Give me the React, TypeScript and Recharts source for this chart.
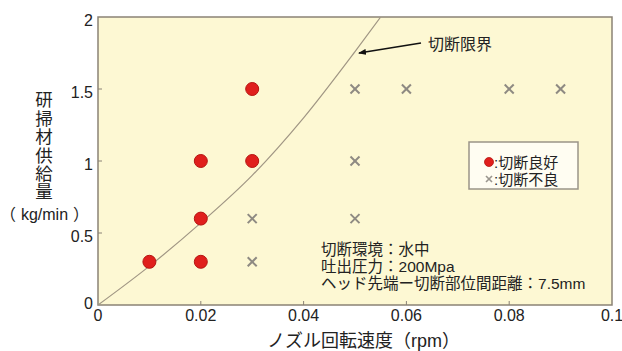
import React from 'react';
import { ComposedChart, Scatter, Line, XAxis, YAxis, CartesianGrid, ReferenceArea } from 'recharts';

const goodX = [0.01, 0.02, 0.02, 0.02, 0.03, 0.03];
const goodY = [0.3, 0.3, 0.6, 1.0, 1.0, 1.5];
const badX = [0.03, 0.03, 0.05, 0.05, 0.05, 0.06, 0.08, 0.09];
const badY = [0.3, 0.6, 0.6, 1.0, 1.5, 1.5, 1.5, 1.5];
const limitX = [0, 0.01, 0.02, 0.03, 0.04, 0.05, 0.055];
const limitY = [0, 0.27, 0.57, 0.9, 1.3, 1.76, 2.0];
const xTicks = [0, 0.02, 0.04, 0.06, 0.08, 0.1];
const yTicks = [0, 0.5, 1, 1.5, 2];
const yLabelMain = '研掃材供給量';
const yLabelUnit = '（kg/min）';
const xLabel = 'ノズル回転速度（rpm）';
const legendGood = ':切断良好';
const legendBad = ':切断不良';
const limitLabel = '切断限界';
const infoLines = ['切断環境：水中', '吐出圧力：200Mpa', 'ヘッド先端ー切断部位間距離：7.5mm'];

const good = goodX.map((x, i) => ({ x, y: goodY[i] }));
const bad = badX.map((x, i) => ({ x, y: badY[i] }));
const limit = limitX.map((x, i) => ({ x, y: limitY[i] }));

const LATIN = '"Liberation Sans", Arial, sans-serif';
const CJK = '"Noto Sans CJK JP", sans-serif';
const TICK_COLOR = '#8a8276';

const fmt = (v: number) => (v === 0 ? '0' : String(Number(v.toFixed(2))));

// split a string into ASCII / non-ASCII runs, each with its own font;
// optionally isolate full-width parentheses (keeps them full width) and pad them
const Mixed = ({ text, isolate = false, after = 0, close = 0 }: { text: string; isolate?: boolean; after?: number; close?: number }) => {
  const re = isolate ? /（|）|[\x20-\x7e]+|[^\x20-\x7e（）]+/g : /[\x20-\x7e]+|[^\x20-\x7e]+/g;
  const parts = text.match(re) || [];
  return (
    <>
      {parts.map((p, i) => {
        const latin = /^[\x20-\x7e]+$/.test(p);
        let dx = 0;
        if (isolate && p === '）') dx = close;
        if (isolate && i > 0 && parts[i - 1] === '（') dx = after;
        return (
          <tspan key={i} dx={dx || undefined} fontFamily={latin ? LATIN : CJK}>{p}</tspan>
        );
      })}
    </>
  );
};

const XTick = (props: any) => {
  const { x, y, payload } = props;
  const v = payload.value;
  const inner = v !== 0 && v !== 0.1;
  return (
    <g>
      {inner && <line x1={x} x2={x} y1={y} y2={y - 4} stroke={TICK_COLOR} strokeWidth={1} />}
      <text x={x} y={y + 15.5} textAnchor="middle" fontSize={16} fontFamily={LATIN} fill="#222">
        {fmt(v)}
      </text>
    </g>
  );
};

const YTick = (props: any) => {
  const { x, y, payload } = props;
  const v = payload.value;
  const inner = v !== 0 && v !== 2;
  return (
    <g>
      {inner && <line x1={x} x2={x + 4} y1={y} y2={y} stroke={TICK_COLOR} strokeWidth={1} />}
      <text x={x - 5} y={v === 0 ? y + 3.5 : y + 8.5} textAnchor="end" fontSize={16} fontFamily={LATIN} fill="#222">
        {fmt(v)}
      </text>
    </g>
  );
};

const GoodShape = (props: any) => {
  const { cx, cy } = props;
  return <circle cx={cx} cy={cy} r={6.5} fill="#e01f1c" stroke="#b51512" strokeWidth={1} />;
};

const BadShape = (props: any) => {
  const { cx, cy } = props;
  const s = 4.5;
  return (
    <g stroke="#8e8a82" strokeWidth={2}>
      <line x1={cx - s} y1={cy - s} x2={cx + s} y2={cy + s} />
      <line x1={cx - s} y1={cy + s} x2={cx + s} y2={cy - s} />
    </g>
  );
};

export default function App() {
  return (
    <div style={{ position: 'absolute', left: 0, top: 0, width: 622, height: 351, background: '#fff' }}>
      <ComposedChart width={622} height={351} margin={{ top: 17, right: 10, bottom: 0, left: 0 }}>
        <CartesianGrid fill="#fdf8d3" horizontal={false} vertical={false} />
        <XAxis
          type="number"
          dataKey="x"
          domain={[0, 0.1]}
          ticks={xTicks}
          height={46}
          tickSize={0}
          tickMargin={0}
          axisLine={false}
          tickLine={false}
          tick={<XTick />}
          allowDataOverflow
        />
        <YAxis
          type="number"
          dataKey="y"
          domain={[0, 2]}
          ticks={yTicks}
          width={98}
          tickSize={0}
          tickMargin={0}
          axisLine={false}
          tickLine={false}
          tick={<YTick />}
          allowDataOverflow
        />
        <Line
          data={limit}
          dataKey="y"
          type="monotone"
          stroke="#a09684"
          strokeWidth={1.2}
          dot={false}
          isAnimationActive={false}
        />
        <Scatter data={good} dataKey="y" shape={<GoodShape />} isAnimationActive={false} />
        <Scatter data={bad} dataKey="y" shape={<BadShape />} isAnimationActive={false} />
        <ReferenceArea x1={0} x2={0.1} y1={0} y2={2} fill="none" fillOpacity={0} stroke="#8a8276" strokeWidth={1.5} />
      </ComposedChart>
      <svg
        width={622}
        height={351}
        style={{ position: 'absolute', left: 0, top: 0, pointerEvents: 'none' }}
      >
        <defs>
          <marker id="arr" markerWidth="8" markerHeight="6" refX="7" refY="3" orient="auto" markerUnits="userSpaceOnUse">
            <path d="M0,0 L8,3 L0,6 Z" fill="#111" />
          </marker>
        </defs>
        <line x1={421} y1={43} x2={359} y2={53} stroke="#111" strokeWidth={1.6} markerEnd="url(#arr)" />
        <text x={428} y={50} fontSize={16} fill="#222" fontFamily={CJK}>{limitLabel}</text>
        {infoLines.map((t, i) => (
          <text key={i} x={321} y={255 + i * 17} fontSize={15.5} fill="#222"><Mixed text={t} /></text>
        ))}
        <rect x={469} y={142} width={109} height={47} fill="#fffdf2" stroke="#9a9488" strokeWidth={1.5} />
        <circle cx={489} cy={162} r={4.5} fill="#e01f1c" stroke="#b51512" strokeWidth={0.8} />
        <text x={494} y={167.5} fontSize={15} fill="#222"><Mixed text={legendGood} /></text>
        <g stroke="#9a968e" strokeWidth={1.6}>
          <line x1={486} y1={176} x2={492} y2={182} />
          <line x1={486} y1={182} x2={492} y2={176} />
        </g>
        <text x={494} y={184.5} fontSize={15} fill="#222"><Mixed text={legendBad} /></text>
        <text
          x={44}
          y={91}
          fontSize={17.5}
          fill="#222"
          fontFamily={CJK}
          letterSpacing={0.9}
          style={{ writingMode: 'vertical-rl' } as any}
        >
          {yLabelMain}
        </text>
        <text x={44.5} y={219.5} textAnchor="middle" fontSize={16} fill="#222"><Mixed text={yLabelUnit} isolate after={5} close={5} /></text>
        <text x={267} y={347} fontSize={18} fill="#222"><Mixed text={xLabel} /></text>
      </svg>
    </div>
  );
}
